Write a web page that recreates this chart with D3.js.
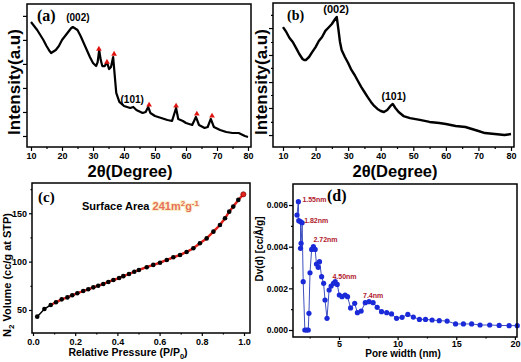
<!DOCTYPE html>
<html>
<head>
<meta charset="utf-8">
<script src="https://cdn.jsdelivr.net/npm/d3@7"></script>
<style>
body { margin: 0; background: #fff; }
text { font-family: "Liberation Sans", Arial, sans-serif; font-weight: bold; fill: #000; }
.tag { font-family: "Liberation Serif", "Times New Roman", serif; }
</style>
</head>
<body>
<div id="chart"></div>
<script>
// (a) XRD pattern, composite
var xrdA_deg = [10, 11, 12, 13, 14, 15, 16, 16.5, 17, 18, 19, 20, 21, 22, 23, 23.5, 24, 25, 26, 27, 28, 29, 30, 31, 31.5, 32, 32.5, 33, 33.8, 34.5, 35.2, 35.8, 36.5, 37, 37.5, 38.5, 40, 42, 43, 44, 46, 47, 47.8, 48.5, 50, 52, 54, 55.5, 56.8, 57.5, 59, 60, 62, 63.2, 64.2, 66, 67, 68, 69, 71, 73, 75, 77, 79, 80];
var xrdA_int = [87.4, 84.6, 81.8, 78.3, 74.8, 70.6, 67.1, 65.7, 66.4, 67.8, 70.6, 74.8, 77.6, 80.4, 83.2, 83.9, 83.2, 81.8, 77.6, 72.7, 67.8, 62.9, 58.7, 56.6, 59.4, 67.8, 60.8, 56.6, 56.6, 59.4, 54.5, 55.9, 62.9, 50.3, 37.8, 31.5, 28.7, 27.3, 28, 25.9, 23.8, 24.5, 28, 23.8, 21.7, 20.3, 18.9, 18.2, 27.3, 19.6, 18.2, 16.8, 15.4, 21, 15.4, 13.3, 14, 19.6, 14, 11.9, 10.5, 9.8, 9.8, 7.7, 7];
var peaksA_deg = [31.9, 34.5, 36.8, 48.1, 56.8, 63.5, 68.4];
var peaksA_int = [68.5, 59.4, 65, 29.4, 28.7, 23.1, 21.7];
var yTicksA = [7.7, 24.5, 41.3, 58.1, 74.9, 91.7];

// (b) XRD pattern, carbon
var xrdB_deg = [10, 11, 12, 13, 14, 15, 16, 16.5, 17, 18, 19, 20, 21, 22, 23, 24, 25, 26, 26.5, 27, 27.5, 28, 29, 30, 31, 32, 33, 34, 35, 36, 37, 38, 39, 40, 41, 42, 43, 43.7, 44.5, 45.5, 47, 49, 52, 55, 58, 60, 63, 66, 68, 70, 72, 75, 78, 80];
var xrdB_int = [83.3, 79.9, 75.7, 72.9, 68.8, 64.6, 61.1, 60.4, 60.4, 62.5, 66, 69.4, 73.6, 76.4, 80.6, 83, 85.4, 88.9, 90.3, 81.9, 72.9, 67.4, 62.5, 58.3, 53.5, 50, 45.8, 41.7, 38.2, 34.7, 31.3, 28.5, 26.4, 25, 24.3, 25.7, 28.5, 29.9, 27.1, 24.3, 21.5, 20.1, 18.8, 17.4, 16.7, 16, 14.6, 13.9, 12.5, 11.1, 9.7, 9, 8.3, 9];
var yTicksB = [8.3, 27.1, 45.1, 63.9, 82.6];
var yMinorB = [17.4, 36.1, 54.9, 72.9, 91.7];

var xrdTicks = [10, 20, 30, 40, 50, 60, 70, 80];
var xrdMinor = [15, 25, 35, 45, 55, 65, 75];

// (c) N2 isotherm
var adsP = [0.02, 0.054, 0.084, 0.109, 0.136, 0.163, 0.186, 0.21, 0.238, 0.262, 0.286, 0.309, 0.333, 0.357, 0.381, 0.408, 0.428, 0.455, 0.48, 0.502, 0.539, 0.57, 0.602, 0.634, 0.665, 0.697, 0.728, 0.76, 0.791, 0.823, 0.855, 0.886, 0.91, 0.93, 0.949, 0.973];
var adsV = [43.1, 51, 55.2, 58, 61, 63, 65.2, 67.3, 69.6, 71.4, 73.4, 75.1, 76.9, 79, 81, 83, 85, 87.2, 89.6, 91.4, 94.2, 96.6, 98.9, 101.7, 104.5, 106.9, 110, 113.8, 119, 124, 131, 137.9, 144.8, 151.7, 156.9, 163.8];
var desP = [0.997, 0.973, 0.949, 0.93, 0.91, 0.886, 0.855, 0.823, 0.791, 0.76, 0.728, 0.697, 0.665, 0.634, 0.602, 0.57, 0.539, 0.502, 0.48, 0.455, 0.428, 0.408, 0.381, 0.357, 0.333, 0.309, 0.286, 0.262, 0.238, 0.21, 0.186, 0.163, 0.136, 0.109, 0.084];
var desV = [169.6, 163.8, 156.9, 151.7, 144.8, 137.9, 131, 124, 119, 113.8, 110, 106.9, 104.5, 101.7, 98.9, 96.6, 94.2, 91.4, 89.6, 87.2, 85, 83, 81, 79, 76.9, 75.1, 73.4, 71.4, 69.6, 67.3, 65.2, 63, 61, 58, 55.2];
var betXTicks = [0, 0.2, 0.4, 0.6, 0.8, 1.0];
var betXMinor = [0.1, 0.3, 0.5, 0.7, 0.9];
var betYTicks = [50, 100, 150];
var betYMinor = [75, 125, 175];

// (d) pore size distribution
var poreW = [1.42, 1.54, 1.57, 1.72, 1.72, 1.77, 1.86, 1.95, 2.09, 2.24, 2.38, 2.44, 2.53, 2.67, 2.82, 2.97, 3.08, 3.23, 3.34, 3.52, 3.69, 3.81, 3.98, 4.16, 4.33, 4.53, 4.68, 4.85, 5.03, 5.26, 5.52, 5.73, 5.99, 6.34, 6.57, 6.89, 7.24, 7.56, 7.91, 8.26, 8.63, 9.07, 9.48, 9.91, 10.38, 10.87, 11.34, 11.86, 12.38, 12.94, 13.55, 14.22, 14.94, 15.61, 16.31, 17.03, 17.85, 18.66, 19.51, 20.2];
var poreDv = [0.00552, 0.00616, 0.00525, 0.0052, 0.00392, 0.00416, 0.00515, 0.00232, 0, 0, 0, 0.0008, 0.00275, 0.00387, 0.004, 0.00387, 0.00317, 0.00301, 0.00328, 0.00256, 0.00224, 0.00144, 0.00056, 0.00192, 0.00211, 0.00224, 0.00232, 0.00219, 0.00168, 0.0016, 0.00168, 0.0016, 0.00106, 0.00128, 0.00083, 0.00091, 0.00131, 0.00136, 0.00131, 0.00109, 0.00088, 0.00083, 0.00077, 0.00056, 0.00061, 0.00075, 0.00062, 0.00051, 0.00051, 0.00048, 0.00045, 0.00043, 0.00029, 0.00029, 0.00029, 0.00024, 0.00024, 0.00022, 0.00021, 0.00021];
var poreLabels = ["1.55nm", "1.82nm", "2.72nm", "4.50nm", "7.4nm"];
var poreLabelW = [1.54, 1.86, 2.82, 4.53, 7.56];
var poreLabelDv = [0.00616, 0.00515, 0.004, 0.00232, 0.00136];
var poreXTicks = [5, 10, 15, 20];
var poreXMinor = [2.5, 7.5, 12.5, 17.5];
var poreYTicks = [0, 0.002, 0.004, 0.006];
var poreYMinor = [0.001, 0.003, 0.005];

var svg = d3.select("#chart").append("svg")
    .attr("width", 521)
    .attr("height", 362);

function makePanel(box, xDomain, yDomain) {
    var x = d3.scaleLinear().domain(xDomain).range([box.l, box.r]);
    var y = d3.scaleLinear().domain(yDomain).range([box.b, box.t]);
    return {x: x, y: y, g: svg.append("g"), box: box};
}

function xAxis(p, major, minor, fmt, len, pad, fs) {
    var ax = d3.axisBottom(p.x).tickValues(major).tickSize(len).tickSizeOuter(0).tickPadding(pad).tickFormat(fmt);
    var g = p.g.append("g").attr("transform", "translate(0," + p.box.b + ")").call(ax);
    g.attr("font-size", fs).attr("font-family", null);
    g.select(".domain").remove();
    g.selectAll("line").attr("stroke-width", 1.2);
    if (minor) {
        var ax2 = d3.axisBottom(p.x).tickValues(minor).tickSize(len / 2).tickFormat("");
        var g2 = p.g.append("g").attr("transform", "translate(0," + p.box.b + ")").call(ax2);
        g2.select(".domain").remove();
        g2.selectAll("line").attr("stroke-width", 1.2);
    }
}

function yAxis(p, major, minor, fmt, len, pad, fs) {
    var ax = d3.axisLeft(p.y).tickValues(major).tickSize(len).tickSizeOuter(0).tickPadding(pad).tickFormat(fmt);
    var g = p.g.append("g").attr("transform", "translate(" + p.box.l + ",0)").call(ax);
    g.attr("font-size", fs).attr("font-family", null);
    g.select(".domain").remove();
    g.selectAll("line").attr("stroke-width", 1.2);
    if (minor) {
        var ax2 = d3.axisLeft(p.y).tickValues(minor).tickSize(len / 2).tickFormat("");
        var g2 = p.g.append("g").attr("transform", "translate(" + p.box.l + ",0)").call(ax2);
        g2.select(".domain").remove();
        g2.selectAll("line").attr("stroke-width", 1.2);
    }
}

function frame(p) {
    p.g.append("rect")
        .attr("x", p.box.l).attr("y", p.box.t)
        .attr("width", p.box.r - p.box.l).attr("height", p.box.b - p.box.t)
        .attr("fill", "none").attr("stroke", "#000").attr("stroke-width", 1.5);
}

function label(p, x, y, txt, fs, cls, anchor, rot) {
    var t = p.g.append("text")
        .attr("transform", "translate(" + x + "," + y + ")" + (rot ? " rotate(-90)" : ""))
        .attr("font-size", fs)
        .style("text-anchor", anchor || "start")
        .text(txt);
    if (cls) t.attr("class", cls);
    return t;
}

// ---------- (a) ----------
var pa = makePanel({l: 27, r: 251, t: 4, b: 147}, [8.71, 80.97], [0, 100]);
xAxis(pa, xrdTicks, xrdMinor, d3.format("d"), 4, 2, 9);
yAxis(pa, yTicksA, null, "", 4, 2, 9);
pa.g.append("path")
    .datum(xrdA_deg)
    .attr("fill", "none")
    .attr("stroke", "#000")
    .attr("stroke-width", 2.2)
    .attr("stroke-linejoin", "round")
    .attr("d", d3.line()
        .x(function(d, i) { return pa.x(xrdA_deg[i]); })
        .y(function(d, i) { return pa.y(xrdA_int[i]); })
    );
pa.g.selectAll(".tri")
    .data(peaksA_deg)
    .enter().append("path")
    .attr("transform", function(d, i) { return "translate(" + pa.x(d) + "," + pa.y(peaksA_int[i]) + ")"; })
    .attr("d", d3.symbol().type(d3.symbolTriangle).size(14))
    .attr("fill", "#e0140f");
frame(pa);
label(pa, 37, 21, "(a)", 16, "tag");
label(pa, pa.x(23.5) + 5, pa.y(83.9) - 6, "(002)", 10, null, "middle");
label(pa, pa.x(42) + 2, pa.y(27.3) - 5, "(101)", 10, null, "middle");
label(pa, 20, 82, "Intensity(a.u)", 17, null, "middle", true);
label(pa, 130, 177, "2\u03b8(Degree)", 16.5, null, "middle");

// ---------- (b) ----------
var pb = makePanel({l: 273, r: 514, t: 3, b: 147}, [6.93, 80.92], [0, 100]);
xAxis(pb, xrdTicks, xrdMinor, d3.format("d"), 4, 2, 9);
yAxis(pb, yTicksB, yMinorB, "", 4, 2, 9);
pb.g.append("path")
    .datum(xrdB_deg)
    .attr("fill", "none")
    .attr("stroke", "#000")
    .attr("stroke-width", 2.4)
    .attr("stroke-linejoin", "round")
    .attr("d", d3.line()
        .x(function(d, i) { return pb.x(xrdB_deg[i]); })
        .y(function(d, i) { return pb.y(xrdB_int[i]); })
    );
frame(pb);
label(pb, 287, 20, "(b)", 14, "tag");
label(pb, pb.x(26.3), pb.y(90.3) - 4, "(002)", 11, null, "middle");
label(pb, pb.x(43.7) + 1, pb.y(29.9) - 4, "(101)", 10.5, null, "middle");
label(pb, 267, 82, "Intensity(a.u)", 17, null, "middle", true);
label(pb, 395, 177, "2\u03b8(Degree)", 16.5, null, "middle");

// ---------- (c) ----------
var pc = makePanel({l: 32, r: 250, t: 183, b: 333}, [-0.0047, 1.0284], [26.2, 181.3]);
xAxis(pc, betXTicks, betXMinor, d3.format(".1f"), 3, 3, 9);
yAxis(pc, betYTicks, betYMinor, d3.format("d"), 3, 2, 9);
var betLine = d3.line();
pc.g.append("path")
    .datum(adsP)
    .attr("fill", "none").attr("stroke", "#000").attr("stroke-width", 1.5)
    .attr("d", betLine.x(function(d, i) { return pc.x(adsP[i]); }).y(function(d, i) { return pc.y(adsV[i]); }));
pc.g.append("path")
    .datum(desP)
    .attr("fill", "none").attr("stroke", "#e3231c").attr("stroke-width", 2.4)
    .attr("d", d3.line().x(function(d, i) { return pc.x(desP[i]); }).y(function(d, i) { return pc.y(desV[i]); }));
pc.g.selectAll(".des")
    .data(desP.slice(0, 1))
    .enter().append("circle")
    .attr("cx", function(d, i) { return pc.x(d); })
    .attr("cy", function(d, i) { return pc.y(desV[i]); })
    .attr("r", 2.6).attr("fill", "#e3231c").attr("stroke", "#600").attr("stroke-width", 0.6);
pc.g.selectAll(".ads")
    .data(adsP)
    .enter().append("circle")
    .attr("cx", function(d) { return pc.x(d); })
    .attr("cy", function(d, i) { return pc.y(adsV[i]); })
    .attr("r", 2.3).attr("fill", "#000");
frame(pc);
label(pc, 38, 202, "(c)", 15, "tag");
var sa = label(pc, 82, 210, "Surface Area ", 11);
var sv = sa.append("tspan").attr("fill", "#e8705a").style("fill", "#e8705a")
    .attr("stroke", "#f8f0c8").attr("stroke-width", 2).attr("paint-order", "stroke");
sv.append("tspan").text("241m");
sv.append("tspan").attr("dy", -4).attr("font-size", 8).text("2");
sv.append("tspan").attr("dy", 4).text("g");
sv.append("tspan").attr("dy", -4).attr("font-size", 8).text("-1");
var ny = label(pc, 11, 275, "N", 11, null, "middle", true);
ny.append("tspan").attr("dy", 3).attr("font-size", 8).text("2");
ny.append("tspan").attr("dy", -3).text(" Volume (cc/g at STP)");
var rp = label(pc, 128, 356, "Relative Pressure (P/P", 10.5, null, "middle");
rp.append("tspan").attr("dy", 3).attr("font-size", 7.5).text("0");
rp.append("tspan").attr("dy", -3).text(")");

// ---------- (d) ----------
var pd = makePanel({l: 293, r: 517, t: 184, b: 337}, [1.08, 20.18], [-0.000336, 0.00701]);
xAxis(pd, poreXTicks, poreXMinor, d3.format("d"), 3, 1, 9);
yAxis(pd, poreYTicks, poreYMinor, d3.format(".3f"), 4, 1, 8.5);
pd.g.append("path")
    .datum(poreW)
    .attr("fill", "none")
    .attr("stroke", "#3d4fbf")
    .attr("stroke-width", 1)
    .attr("d", d3.line()
        .x(function(d, i) { return pd.x(poreW[i]); })
        .y(function(d, i) { return pd.y(poreDv[i]); })
    );
pd.g.selectAll(".dot")
    .data(poreW)
    .enter().append("circle")
    .attr("cx", function(d) { return pd.x(d); })
    .attr("cy", function(d, i) { return pd.y(poreDv[i]); })
    .attr("r", 2.6)
    .attr("fill", "#1b2ad8");
var off = [[4, 0], [2, 0], [0, -5], [-1, -3], [-6, -4]];
pd.g.selectAll(".plab")
    .data(poreLabels)
    .enter().append("text")
    .attr("x", function(d, i) { return pd.x(poreLabelW[i]) + off[i][0]; })
    .attr("y", function(d, i) { return pd.y(poreLabelDv[i]) + off[i][1]; })
    .attr("font-size", 7)
    .style("fill", "#b0202c")
    .text(function(d) { return d; });
frame(pd);
label(pd, 327, 201, "(d)", 16, "tag");
label(pd, 263, 249, "Dv(d) [cc/\u00c5/g]", 10, null, "middle", true);
label(pd, 403, 357, "Pore width (nm)", 10, null, "middle");
</script>
</body>
</html>
